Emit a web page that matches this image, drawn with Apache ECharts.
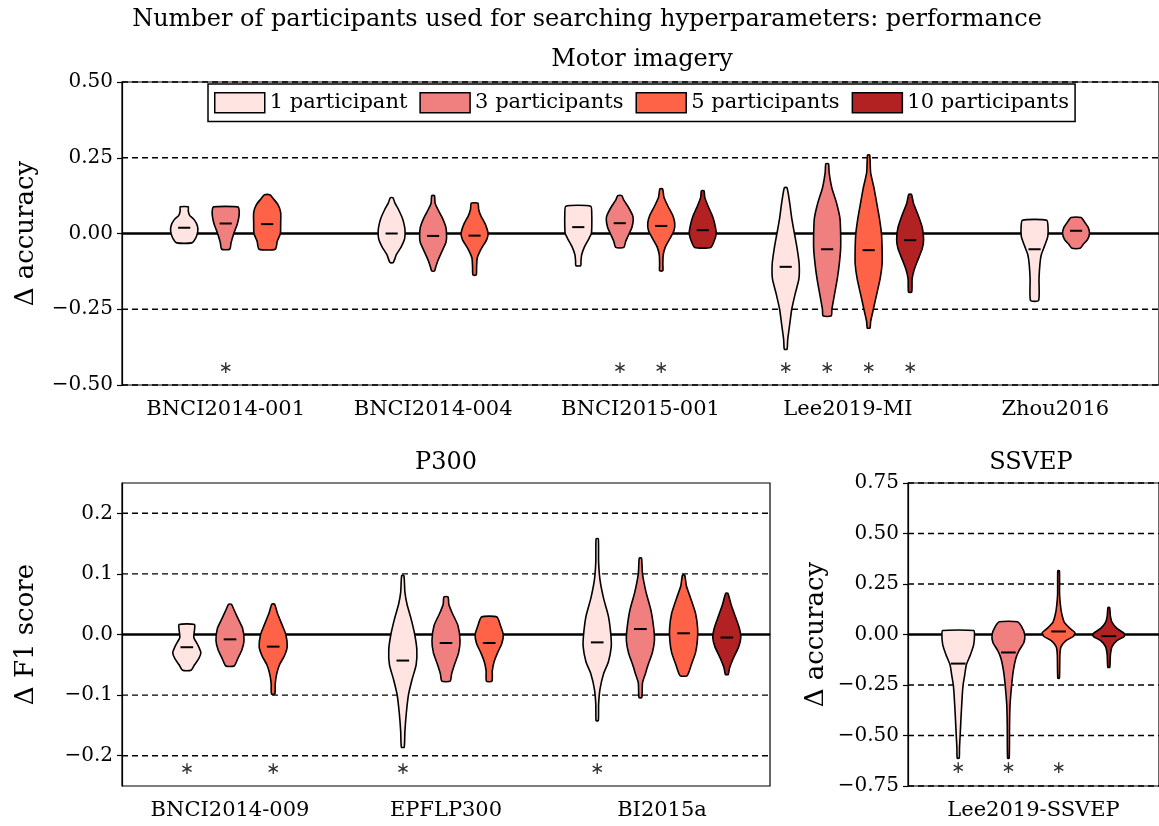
<!DOCTYPE html>
<html>
<head>
<meta charset="utf-8">
<script src="https://cdn.jsdelivr.net/npm/echarts@6/dist/echarts.min.js"></script>
<style>
html, body {margin: 0; padding: 0; background: #fff;}
#chart {width: 1159px; height: 826px;}
</style>
</head>
<body>
<div id="chart"></div>
<script>
var FONT = "'DejaVu Serif', serif";

// hue levels (number of participants used for the search)
var hueNames = ['1 participant', '3 participants', '5 participants', '10 participants'];
var hueColors = ['#ffe4e1', '#f08080', '#ff6347', '#b22222'];

// ---- Motor imagery ----
var miDatasets = ['BNCI2014-001', 'BNCI2014-004', 'BNCI2015-001', 'Lee2019-MI', 'Zhou2016'];
var miTicks = [-0.5, -0.25, 0, 0.25, 0.5];
var miMedian = [
    [0.019, 0.033, 0.031, null],
    [0.0, -0.008, -0.007, null],
    [0.021, 0.034, 0.025, 0.011],
    [-0.11, -0.052, -0.055, -0.022],
    [-0.052, 0.009, null, null]
];
// violin outlines: [value, relative half width], top to bottom
var miShape = [
    [
        [[0.088, 0.3], [0.075, 0.3], [0.06, 0.4], [0.045, 0.75], [0.025, 0.98], [0.005, 1.0], [-0.015, 0.85], [-0.031, 0.55]],
        [[0.088, 0.9], [0.075, 1.0], [0.055, 0.98], [0.03, 0.85], [0.0, 0.6], [-0.03, 0.4], [-0.052, 0.3]],
        [[0.128, 0.2], [0.115, 0.45], [0.095, 0.8], [0.07, 1.0], [0.03, 1.0], [0.0, 0.98], [-0.025, 0.75], [-0.052, 0.6]],
        null
    ],
    [
        [[0.118, 0.1], [0.1, 0.25], [0.08, 0.5], [0.05, 0.8], [0.02, 0.97], [0.0, 1.0], [-0.02, 0.95], [-0.045, 0.7], [-0.07, 0.35], [-0.096, 0.12]],
        [[0.125, 0.1], [0.1, 0.15], [0.08, 0.35], [0.05, 0.7], [0.02, 0.95], [-0.01, 1.0], [-0.03, 0.95], [-0.06, 0.65], [-0.09, 0.35], [-0.11, 0.2], [-0.124, 0.1]],
        [[0.1, 0.25], [0.08, 0.3], [0.06, 0.45], [0.03, 0.8], [0.0, 1.0], [-0.02, 0.9], [-0.05, 0.5], [-0.08, 0.2], [-0.11, 0.15], [-0.137, 0.12]],
        null
    ],
    [
        [[0.09, 0.92], [0.06, 1.0], [0.02, 1.0], [0.0, 0.97], [-0.02, 0.75], [-0.045, 0.45], [-0.07, 0.25], [-0.09, 0.2], [-0.106, 0.18]],
        [[0.125, 0.15], [0.11, 0.3], [0.09, 0.6], [0.06, 0.95], [0.045, 1.0], [0.02, 0.9], [0.0, 0.7], [-0.025, 0.45], [-0.046, 0.3]],
        [[0.147, 0.1], [0.12, 0.2], [0.09, 0.5], [0.06, 0.85], [0.035, 1.0], [0.01, 0.95], [-0.02, 0.6], [-0.045, 0.3], [-0.07, 0.15], [-0.1, 0.12], [-0.123, 0.12]],
        [[0.141, 0.1], [0.12, 0.15], [0.09, 0.4], [0.06, 0.7], [0.03, 0.9], [0.0, 1.0], [-0.025, 0.85], [-0.046, 0.6]]
    ],
    [
        [[0.151, 0.1], [0.1, 0.3], [0.05, 0.45], [0.0, 0.65], [-0.05, 0.85], [-0.1, 1.0], [-0.15, 0.98], [-0.2, 0.7], [-0.25, 0.45], [-0.3, 0.3], [-0.35, 0.15], [-0.382, 0.1]],
        [[0.23, 0.1], [0.2, 0.15], [0.15, 0.35], [0.1, 0.7], [0.05, 0.95], [0.0, 1.0], [-0.05, 1.0], [-0.1, 0.9], [-0.15, 0.75], [-0.2, 0.55], [-0.25, 0.35], [-0.272, 0.3]],
        [[0.259, 0.08], [0.2, 0.15], [0.15, 0.4], [0.1, 0.6], [0.05, 0.8], [0.0, 0.95], [-0.05, 1.0], [-0.1, 1.0], [-0.15, 0.85], [-0.2, 0.6], [-0.25, 0.35], [-0.29, 0.15], [-0.312, 0.1]],
        [[0.129, 0.1], [0.1, 0.25], [0.06, 0.6], [0.02, 0.9], [-0.02, 1.0], [-0.05, 0.9], [-0.09, 0.55], [-0.12, 0.3], [-0.15, 0.15], [-0.193, 0.12]]
    ],
    [
        [[0.044, 0.9], [0.02, 1.0], [-0.01, 0.98], [-0.04, 0.75], [-0.07, 0.5], [-0.1, 0.4], [-0.15, 0.33], [-0.221, 0.3]],
        [[0.053, 0.38], [0.04, 0.6], [0.02, 0.9], [0.0, 1.0], [-0.02, 0.85], [-0.035, 0.55], [-0.049, 0.3]],
        null,
        null
    ]
];
var miStars = [[0, 1], [2, 1], [2, 2], [3, 0], [3, 1], [3, 2], [3, 3]];
var miStarLevel = -0.445;

// ---- P300 ----
var p3Datasets = ['BNCI2014-009', 'EPFLP300', 'BI2015a'];
var p3Ticks = [-0.2, -0.1, 0, 0.1, 0.2];
var p3Median = [
    [-0.021, -0.008, -0.02, null],
    [-0.043, -0.014, -0.014, null],
    [-0.013, 0.009, 0.002, -0.005]
];
var p3Shape = [
    [
        [[0.0165, 0.55], [0.008, 0.55], [-0.005, 0.5], [-0.018, 0.8], [-0.03, 1.0], [-0.04, 0.85], [-0.05, 0.55], [-0.059, 0.3]],
        [[0.05, 0.1], [0.04, 0.3], [0.025, 0.6], [0.01, 0.9], [-0.01, 1.0], [-0.025, 0.85], [-0.04, 0.55], [-0.052, 0.3]],
        [[0.05, 0.1], [0.035, 0.3], [0.015, 0.65], [0.0, 0.9], [-0.02, 1.0], [-0.035, 0.8], [-0.05, 0.45], [-0.065, 0.25], [-0.08, 0.15], [-0.098, 0.12]],
        null
    ],
    [
        [[0.097, 0.08], [0.07, 0.15], [0.05, 0.3], [0.025, 0.6], [0.0, 0.85], [-0.025, 1.0], [-0.05, 0.95], [-0.075, 0.65], [-0.1, 0.4], [-0.13, 0.25], [-0.16, 0.15], [-0.186, 0.1]],
        [[0.062, 0.15], [0.05, 0.2], [0.035, 0.45], [0.015, 0.85], [-0.01, 1.0], [-0.03, 0.9], [-0.05, 0.6], [-0.065, 0.4], [-0.077, 0.3]],
        [[0.029, 0.55], [0.015, 0.8], [0.0, 1.0], [-0.015, 0.9], [-0.03, 0.6], [-0.045, 0.35], [-0.06, 0.22], [-0.077, 0.2]],
        null
    ],
    [
        [[0.158, 0.08], [0.12, 0.1], [0.09, 0.2], [0.06, 0.45], [0.03, 0.8], [0.0, 0.97], [-0.02, 1.0], [-0.045, 0.8], [-0.065, 0.45], [-0.09, 0.2], [-0.115, 0.1], [-0.142, 0.08]],
        [[0.126, 0.08], [0.1, 0.15], [0.07, 0.4], [0.04, 0.75], [0.01, 0.95], [-0.01, 1.0], [-0.03, 0.85], [-0.05, 0.55], [-0.065, 0.35], [-0.08, 0.15], [-0.104, 0.1]],
        [[0.098, 0.08], [0.08, 0.2], [0.06, 0.5], [0.035, 0.85], [0.01, 1.0], [-0.01, 0.98], [-0.03, 0.85], [-0.05, 0.55], [-0.068, 0.25]],
        [[0.068, 0.08], [0.05, 0.3], [0.03, 0.6], [0.01, 0.9], [-0.005, 1.0], [-0.02, 0.85], [-0.04, 0.45], [-0.055, 0.2], [-0.066, 0.1]]
    ]
];
var p3Stars = [[0, 0], [0, 2], [1, 0], [2, 0]];
var p3StarLevel = -0.223;

// ---- SSVEP ----
var ssDatasets = ['Lee2019-SSVEP'];
var ssTicks = [-0.75, -0.5, -0.25, 0, 0.25, 0.5, 0.75];
var ssMedian = [
    [-0.144, -0.089, 0.015, -0.008]
];
var ssShape = [
    [
        [[0.02, 0.95], [0.0, 1.0], [-0.05, 0.95], [-0.1, 0.75], [-0.15, 0.5], [-0.2, 0.4], [-0.25, 0.3], [-0.3, 0.25], [-0.4, 0.18], [-0.5, 0.12], [-0.56, 0.08], [-0.612, 0.06]],
        [[0.063, 0.55], [0.04, 0.8], [0.0, 1.0], [-0.04, 0.95], [-0.08, 0.65], [-0.12, 0.45], [-0.18, 0.3], [-0.25, 0.2], [-0.35, 0.1], [-0.45, 0.07], [-0.612, 0.05]],
        [[0.315, 0.05], [0.2, 0.06], [0.14, 0.12], [0.1, 0.2], [0.06, 0.35], [0.03, 0.7], [0.01, 1.0], [-0.01, 0.9], [-0.03, 0.45], [-0.06, 0.15], [-0.1, 0.08], [-0.216, 0.05]],
        [[0.134, 0.05], [0.09, 0.1], [0.06, 0.2], [0.03, 0.5], [0.005, 0.95], [-0.01, 0.95], [-0.03, 0.5], [-0.06, 0.2], [-0.1, 0.1], [-0.162, 0.06]]
    ]
];
var ssStars = [[0, 0], [0, 1], [0, 2]];
var ssStarLevel = -0.665;

// centre x of violin (cat, hue) : present hues are packed around the tick
function violinX(api, medians, c, h) {
    var present = [];
    medians[c].forEach(function (m, i) {
        if (m !== null) present.push(i);
    });
    var slot = present.indexOf(h);
    var band = api.size([1, 0])[0];
    var base = api.coord([c, 0])[0];
    return base + (slot - (present.length - 1) / 2) * 0.2 * band;
}

function renderGridLine(params, api) {
    var cs = params.coordSys;
    var v = api.value(1);
    var y = api.coord([0, v])[1];
    return {
        type: 'line',
        shape: {x1: cs.x, y1: y, x2: cs.x + cs.width, y2: y},
        style: Math.abs(v) < 1e-9 ?
            {stroke: '#000', lineWidth: 2.6} :
            {stroke: '#000', lineWidth: 1.4, lineDash: [6, 4]}
    };
}

function makeViolinRenderer(medians, shapes) {
    return function (params, api) {
        var c = api.value(0), h = api.value(1), med = api.value(2);
        var cx = violinX(api, medians, c, h);
        var half = 0.065 * api.size([1, 0])[0];
        var prof = shapes[c][h];
        var right = prof.map(function (p) {
            return [cx + p[1] * half, api.coord([c, p[0]])[1]];
        });
        var left = prof.slice().reverse().map(function (p) {
            return [cx - p[1] * half, api.coord([c, p[0]])[1]];
        });
        var my = api.coord([c, med])[1];
        return {
            type: 'group',
            children: [
                {
                    type: 'polygon',
                    shape: {points: right.concat(left), smooth: 0.2},
                    style: {fill: hueColors[h], stroke: '#000', lineWidth: 1.6}
                },
                {
                    type: 'line',
                    shape: {x1: cx - 0.45 * half, y1: my, x2: cx + 0.45 * half, y2: my},
                    style: {stroke: '#000', lineWidth: 2}
                }
            ]
        };
    };
}

function makeStarRenderer(medians) {
    return function (params, api) {
        var c = api.value(0), h = api.value(1);
        var cx = violinX(api, medians, c, h);
        var y = api.coord([c, api.value(2)])[1];
        return {
            type: 'text',
            x: cx,
            y: y,
            style: {
                text: '\u2217', fontSize: 17, fontFamily: 'DejaVu Sans',
                fill: '#333', align: 'center', verticalAlign: 'middle'
            }
        };
    };
}

function panelSeries(gi, ticks, medians, shapes, stars, starLevel) {
    var list = [];
    list.push({
        type: 'custom',
        name: 'lines' + gi,
        xAxisIndex: gi,
        yAxisIndex: gi,
        z: 1,
        silent: true,
        encode: {x: 0, y: 1},
        data: ticks.map(function (t) { return [0, t]; }),
        renderItem: renderGridLine
    });
    var violinRender = makeViolinRenderer(medians, shapes);
    hueNames.forEach(function (name, h) {
        var data = [];
        medians.forEach(function (row, c) {
            if (row[h] !== null) data.push([c, h, row[h]]);
        });
        list.push({
            type: 'custom',
            name: name,
            xAxisIndex: gi,
            yAxisIndex: gi,
            z: 3,
            silent: true,
            itemStyle: {color: hueColors[h]},
            encode: {x: 0, y: 2},
            data: data,
            renderItem: violinRender
        });
    });
    list.push({
        type: 'custom',
        name: 'stars' + gi,
        xAxisIndex: gi,
        yAxisIndex: gi,
        z: 3,
        silent: true,
        encode: {x: 0, y: 2},
        data: stars.map(function (s) { return [s[0], s[1], starLevel]; }),
        renderItem: makeStarRenderer(medians)
    });
    return list;
}

function fmt(digits) {
    return function (v) {
        if (Math.abs(v) < 1e-9) return (0).toFixed(digits);
        return (v < 0 ? '\u2212' : '') + Math.abs(v).toFixed(digits);
    };
}

function xAxisOf(gi, datasets) {
    return {
        type: 'category',
        gridIndex: gi,
        data: datasets,
        axisLine: {lineStyle: {color: '#000', width: 1.2}},
        axisTick: {alignWithLabel: true, length: 5, lineStyle: {color: '#000', width: 1.2}},
        axisLabel: {color: '#000', fontSize: 21, fontFamily: FONT, margin: 14},
        splitLine: {show: false}
    };
}

function yAxisOf(gi, name, extra) {
    var ax = {
        type: 'value',
        gridIndex: gi,
        name: name,
        nameLocation: 'middle',
        nameGap: 83,
        nameTextStyle: {color: '#000', fontSize: 26, fontFamily: FONT},
        axisLine: {show: true, lineStyle: {color: '#000', width: 1.2}},
        axisTick: {show: true, length: 5, lineStyle: {color: '#000', width: 1.2}},
        axisLabel: {color: '#000', fontSize: 20, fontFamily: FONT, margin: 9},
        splitLine: {show: false}
    };
    for (var k in extra) {
        if (k === 'axisLabel' || k === 'axisTick') {
            for (var j in extra[k]) ax[k][j] = extra[k][j];
        } else {
            ax[k] = extra[k];
        }
    }
    return ax;
}

var gridStyle = {show: true, borderColor: '#000', borderWidth: 1.2, backgroundColor: 'transparent'};
var titleStyle = {fontSize: 24, fontWeight: 'normal', color: '#000', fontFamily: FONT};

var option = {
    backgroundColor: '#fff',
    animation: false,
    textStyle: {fontFamily: FONT},
    title: [
        {text: 'Number of participants used for searching hyperparameters: performance', left: 587, top: 8, textAlign: 'center', padding: 0, textStyle: titleStyle},
        {text: 'Motor imagery', left: 642, top: 48, textAlign: 'center', padding: 0, textStyle: titleStyle},
        {text: 'P300', left: 446, top: 451, textAlign: 'center', padding: 0, textStyle: titleStyle},
        {text: 'SSVEP', left: 1031, top: 451, textAlign: 'center', padding: 0, textStyle: titleStyle}
    ],
    legend: {
        data: hueNames,
        left: 208,
        top: 84,
        orient: 'horizontal',
        icon: 'rect',
        itemWidth: 50,
        itemHeight: 20,
        itemGap: 12,
        padding: [8, 6, 8, 6],
        borderColor: '#000',
        borderWidth: 1.5,
        borderRadius: 0,
        backgroundColor: '#fff',
        selectedMode: false,
        itemStyle: {borderColor: '#000', borderWidth: 1.5},
        textStyle: {fontSize: 21, fontFamily: FONT, color: '#000'}
    },
    grid: [
        Object.assign({left: 122, top: 82, width: 1040, height: 303}, gridStyle),
        Object.assign({left: 122, top: 483, width: 648, height: 303}, gridStyle),
        Object.assign({left: 908, top: 483, width: 256, height: 303}, gridStyle)
    ],
    xAxis: [
        xAxisOf(0, miDatasets),
        xAxisOf(1, p3Datasets),
        xAxisOf(2, ssDatasets)
    ],
    yAxis: [
        yAxisOf(0, '\u0394 accuracy', {min: -0.5, max: 0.5, interval: 0.25, axisLabel: {formatter: fmt(2)}}),
        yAxisOf(1, '\u0394 F1 score', {min: -0.25, max: 0.25,
            axisLabel: {formatter: fmt(1), customValues: p3Ticks},
            axisTick: {customValues: p3Ticks}}),
        yAxisOf(2, '\u0394 accuracy', {min: -0.75, max: 0.75, interval: 0.25, nameGap: 79, axisLabel: {formatter: fmt(2)}})
    ],
    series: []
        .concat(panelSeries(0, miTicks, miMedian, miShape, miStars, miStarLevel))
        .concat(panelSeries(1, p3Ticks, p3Median, p3Shape, p3Stars, p3StarLevel))
        .concat(panelSeries(2, ssTicks, ssMedian, ssShape, ssStars, ssStarLevel))
};

var myChart = echarts.init(document.getElementById('chart'));
myChart.setOption(option);
</script>
</body>
</html>
